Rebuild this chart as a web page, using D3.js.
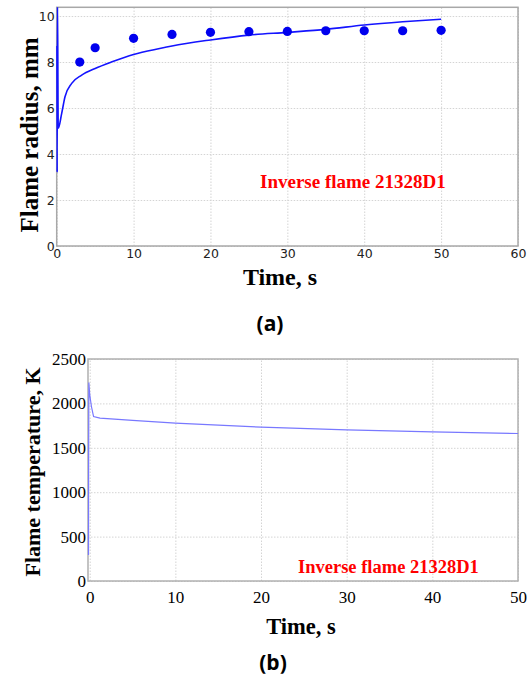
<!DOCTYPE html>
<html>
<head>
<meta charset="utf-8">
<script src="https://cdn.jsdelivr.net/npm/d3@7"></script>
<style>
  body { margin: 0; background: #fff; }
  svg { display: block; }
  .grid line { stroke: #d4d4d4; stroke-dasharray: 1.5,1.5; }
  .grid path { display: none; }
</style>
</head>
<body>
<svg id="fig" width="527" height="687"></svg>
<script>
// (a) flame radius: measured points and model line
var radiusTime = [3, 5, 10, 15, 20, 25, 30, 35, 40, 45, 50];
var radiusMeasured = [8.0, 8.62, 9.03, 9.2, 9.29, 9.32, 9.33, 9.36, 9.36, 9.36, 9.38];
var modelTime = [0.03, 0.06, 0.1, 0.2, 0.65, 1.08, 1.95, 3.25, 5, 7.2, 10, 13.4, 15, 20, 25, 30, 35, 40, 45, 50];
var modelRadius = [8.7, 3.2, 10.8, 5.12, 5.77, 6.49, 7.07, 7.43, 7.72, 8.01, 8.33, 8.59, 8.7, 8.96, 9.17, 9.29, 9.42, 9.61, 9.75, 9.86];
var xTicksA = [0, 10, 20, 30, 40, 50, 60];
var yTicksA = [0, 2, 4, 6, 8, 10];

// (b) flame temperature
var tempTime = [-0.14, -0.13, -0.1, 0.0, 0.2, 0.45, 1.2, 5, 10, 20, 30, 40, 50];
var tempValue = [293, 1200, 2236, 2100, 1965, 1852, 1834, 1808, 1778, 1733, 1702, 1680, 1661];
var xTicksB = [0, 10, 20, 30, 40, 50];
var yTicksB = [0, 500, 1000, 1500, 2000, 2500];

var label = "Inverse flame 21328D1";
var svg = d3.select("#fig");
var serif = "'Liberation Serif', 'Times New Roman', serif";

// ---------- panel (a) ----------
var xA = d3.scaleLinear().domain([0, 60]).range([56.7, 518]);
var yA = d3.scaleLinear().domain([0, 10.38]).range([246, 7.3]);

var gA = svg.append("g");

gA.append("g").attr("class", "grid")
	.attr("transform", "translate(0,246)")
	.call(d3.axisBottom(xA).tickValues(xTicksA).tickSize(-(246 - 7.3)).tickFormat(""));
gA.append("g").attr("class", "grid")
	.attr("transform", "translate(56.7,0)")
	.call(d3.axisLeft(yA).tickValues(yTicksA).tickSize(-(518 - 56.7)).tickFormat(""));

gA.append("rect")
	.attr("x", 56.7).attr("y", 7.3)
	.attr("width", 518 - 56.7).attr("height", 246 - 7.3)
	.attr("fill", "none").attr("stroke", "#a8a8a8").attr("stroke-width", 1.5);

var axA = gA.append("g").attr("transform", "translate(0,246)")
	.call(d3.axisBottom(xA).tickValues(xTicksA).tickSize(0).tickPadding(3));
var ayA = gA.append("g").attr("transform", "translate(56.7,0)")
	.call(d3.axisLeft(yA).tickValues(yTicksA).tickSize(0).tickPadding(2));
[axA, ayA].forEach(function(a){
	a.select(".domain").remove();
	a.selectAll("text").attr("font-family", "'DejaVu Sans', sans-serif")
		.attr("font-size", "12.5px").attr("fill", "#222");
});

gA.append("clipPath").attr("id", "clipA")
	.append("rect").attr("x", 54).attr("y", 7.3)
	.attr("width", 518 - 54).attr("height", 246 - 7.3);

var modelA = modelTime.map(function(t, i){ return [t, modelRadius[i]]; });
gA.append("path")
	.datum(modelA)
	.attr("clip-path", "url(#clipA)")
	.attr("fill", "none")
	.attr("stroke", "#1414ff")
	.attr("stroke-width", 1.6)
	.attr("d", d3.line()
		.x(function(d){ return xA(d[0]); })
		.y(function(d){ return yA(d[1]); })
		.curve(d3.curveMonotoneX));

gA.selectAll("circle.pt")
	.data(radiusTime)
	.enter().append("circle")
	.attr("class", "pt")
	.attr("cx", function(d){ return xA(d); })
	.attr("cy", function(d, i){ return yA(radiusMeasured[i]); })
	.attr("r", 4.6)
	.attr("fill", "#0000ee");

gA.append("text")
	.attr("x", 260).attr("y", 188)
	.attr("font-family", serif).attr("font-weight", "bold")
	.attr("font-size", "19px").attr("fill", "#ff0000")
	.text(label);

gA.append("text")
	.attr("transform", "translate(38,135) rotate(-90)")
	.attr("text-anchor", "middle")
	.attr("font-family", serif).attr("font-weight", "bold")
	.attr("font-size", "25px").attr("fill", "#000")
	.text("Flame radius, mm");

gA.append("text")
	.attr("x", 280).attr("y", 285)
	.attr("text-anchor", "middle")
	.attr("font-family", serif).attr("font-weight", "bold")
	.attr("font-size", "24px").attr("fill", "#000")
	.text("Time, s");

gA.append("text")
	.attr("x", 270).attr("y", 331)
	.attr("text-anchor", "middle")
	.attr("font-family", "'Open Sans', sans-serif").attr("font-weight", "bold")
	.attr("font-size", "21px").attr("fill", "#000")
	.text("(a)");

// ---------- panel (b) ----------
var xB = d3.scaleLinear().domain([-0.2, 50]).range([88, 518]);
var yB = d3.scaleLinear().domain([0, 2500]).range([581, 359]);

var gB = svg.append("g");

gB.append("g").attr("class", "grid")
	.attr("transform", "translate(0,581)")
	.call(d3.axisBottom(xB).tickValues(xTicksB).tickSize(-(581 - 359)).tickFormat(""));
gB.append("g").attr("class", "grid")
	.attr("transform", "translate(88,0)")
	.call(d3.axisLeft(yB).tickValues(yTicksB).tickSize(-(518 - 88)).tickFormat(""));
gB.selectAll(".grid line").attr("stroke", "#e2e2e2");

gB.append("rect")
	.attr("x", 88).attr("y", 359)
	.attr("width", 518 - 88).attr("height", 581 - 359)
	.attr("fill", "none").attr("stroke", "#b0b0b0").attr("stroke-width", 1.5);

var axB = gB.append("g").attr("transform", "translate(0,581)")
	.call(d3.axisBottom(xB).tickValues(xTicksB).tickSize(0).tickPadding(10));
var ayB = gB.append("g").attr("transform", "translate(88,0)")
	.call(d3.axisLeft(yB).tickValues(yTicksB).tickSize(0).tickPadding(2).tickFormat(d3.format("d")));
[axB, ayB].forEach(function(a){
	a.select(".domain").remove();
	a.selectAll("text").attr("font-family", serif)
		.attr("font-size", "17px").attr("fill", "#000");
});

gB.append("clipPath").attr("id", "clipB")
	.append("rect").attr("x", 86).attr("y", 359)
	.attr("width", 518 - 86).attr("height", 581 - 359);

var tempB = tempTime.map(function(t, i){ return [t, tempValue[i]]; });
gB.append("path")
	.datum(tempB)
	.attr("clip-path", "url(#clipB)")
	.attr("fill", "none")
	.attr("stroke", "#7878ff")
	.attr("stroke-width", 1.2)
	.attr("d", d3.line()
		.x(function(d){ return xB(d[0]); })
		.y(function(d){ return yB(d[1]); }));

gB.append("text")
	.attr("x", 298).attr("y", 573)
	.attr("font-family", serif).attr("font-weight", "bold")
	.attr("font-size", "18.5px").attr("fill", "#ff0000")
	.text(label);

gB.append("text")
	.attr("transform", "translate(40,472) rotate(-90)")
	.attr("text-anchor", "middle")
	.attr("font-family", serif).attr("font-weight", "bold")
	.attr("font-size", "22px").attr("fill", "#000")
	.text("Flame temperature, K");

gB.append("text")
	.attr("x", 301).attr("y", 634)
	.attr("text-anchor", "middle")
	.attr("font-family", serif).attr("font-weight", "bold")
	.attr("font-size", "22.5px").attr("fill", "#000")
	.text("Time, s");

gB.append("text")
	.attr("x", 273).attr("y", 670)
	.attr("text-anchor", "middle")
	.attr("font-family", "'Open Sans', sans-serif").attr("font-weight", "bold")
	.attr("font-size", "21px").attr("fill", "#000")
	.text("(b)");
</script>
</body>
</html>
